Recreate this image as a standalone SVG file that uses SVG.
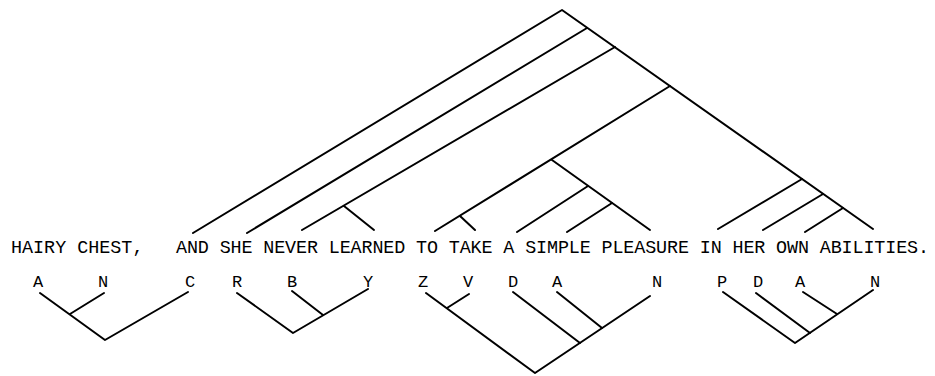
<svg xmlns="http://www.w3.org/2000/svg" width="935" height="376" viewBox="0 0 935 376">
<style>
.t{font-family:"Liberation Mono","DejaVu Sans Mono",monospace;font-size:18.4px;fill:#000}
.l{font-family:"Liberation Mono","DejaVu Sans Mono",monospace;font-size:17px;fill:#000;text-anchor:middle}
.c line,.c polyline{stroke:#000;stroke-width:2;fill:none;stroke-linecap:round;stroke-linejoin:round}
</style>
<rect width="935" height="376" fill="#fff"/>
<g id="sentence">
<text class="t" x="11" y="253">HAIRY CHEST,</text>
<text class="t" x="176" y="253" textLength="753" lengthAdjust="spacing">AND SHE NEVER LEARNED TO TAKE A SIMPLE PLEASURE IN HER OWN ABILITIES.</text>
</g>
<g id="labels">
<text class="l" x="38" y="287">A</text>
<text class="l" x="103" y="287">N</text>
<text class="l" x="190" y="287">C</text>
<text class="l" x="237" y="287">R</text>
<text class="l" x="292" y="287">B</text>
<text class="l" x="368" y="287">Y</text>
<text class="l" x="423" y="287">Z</text>
<text class="l" x="468" y="287">V</text>
<text class="l" x="513" y="287">D</text>
<text class="l" x="557" y="287">A</text>
<text class="l" x="657" y="287">N</text>
<text class="l" x="722" y="287">P</text>
<text class="l" x="758" y="287">D</text>
<text class="l" x="800" y="287">A</text>
<text class="l" x="875" y="287">N</text>
</g>
<g id="connectors" class="c">
<g id="upper-tree">
<polyline points="193,233 562,10 873,229"/>
<line x1="587" y1="28" x2="247" y2="233"/>
<line x1="615" y1="47" x2="302" y2="230"/>
<line x1="344" y1="206" x2="374" y2="230"/>
<line x1="670" y1="86" x2="435" y2="231"/>
<line x1="460" y1="216" x2="475" y2="230"/>
<line x1="552" y1="160" x2="650" y2="230"/>
<line x1="588" y1="186" x2="517" y2="232"/>
<line x1="612" y1="203" x2="567" y2="232"/>
<line x1="802" y1="179" x2="718" y2="229"/>
<line x1="823" y1="194" x2="763" y2="230"/>
<line x1="843" y1="208" x2="805" y2="232"/>
</g>
<g id="lower-tree-1">
<polyline points="40,293 105,340 188,292"/>
<line x1="104" y1="293" x2="70" y2="314"/>
</g>
<g id="lower-tree-2">
<polyline points="237,293 293,333 368,289"/>
<line x1="292" y1="291" x2="323" y2="315"/>
</g>
<g id="lower-tree-3">
<polyline points="426,293 535,373 650,296"/>
<line x1="469" y1="294" x2="447" y2="308"/>
<line x1="513" y1="292" x2="580" y2="343"/>
<line x1="557" y1="292" x2="602" y2="328"/>
</g>
<g id="lower-tree-4">
<polyline points="723,292 795,343 873,290"/>
<line x1="756" y1="293" x2="810" y2="333"/>
<line x1="803" y1="292" x2="837" y2="314"/>
</g>
</g>
</svg>
